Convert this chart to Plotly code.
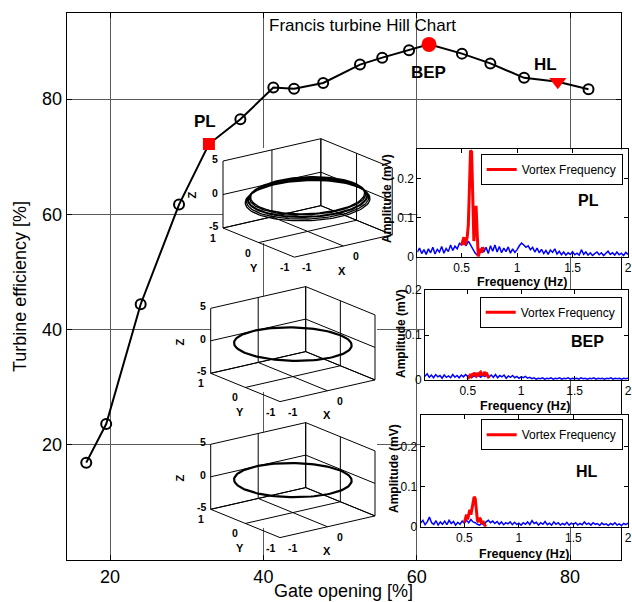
import numpy as np
import plotly.graph_objects as go

# ---------------- data ----------------
gate_opening = [16.9, 19.5, 24.0, 29.0, 32.9, 37.0, 41.3, 44.0, 47.8, 52.6,
                55.5, 59.0, 61.6, 65.9, 69.6, 74.0, 78.4, 82.4]
efficiency = [16.9, 23.6, 44.4, 61.7, 72.2, 76.5, 82.0, 81.8, 82.8, 86.0,
              87.2, 88.5, 89.5, 87.9, 86.2, 83.7, 83.0, 81.7]
op_names = ["PL", "BEP", "HL"]
op_index = [4, 12, 16]
x_ticks_main = [20, 40, 60, 80]
y_ticks_main = [20, 40, 60, 80]

# spectra (amplitude in mV), uniform frequency bins
freq_start, freq_step = 0.10, 0.02
pl_spectrum = [
    0.012, 0.022, 0.008, 0.018, 0.006, 0.020, 0.010, 0.024, 0.007, 0.019,
    0.012, 0.026, 0.009, 0.021, 0.013, 0.030, 0.016, 0.027, 0.020, 0.034,
    0.030, 0.038, 0.028, 0.040, 0.030, 0.020, 0.010, 0.004, 0.015, 0.022,
    0.012, 0.024, 0.008, 0.028, 0.014, 0.030, 0.012, 0.026, 0.010, 0.022,
    0.013, 0.025, 0.009, 0.020, 0.011, 0.018, 0.028, 0.035, 0.030, 0.024,
    0.028, 0.018, 0.024, 0.012, 0.022, 0.010, 0.019, 0.008, 0.016, 0.006,
    0.017, 0.011, 0.020, 0.007, 0.014, 0.005, 0.012, 0.004, 0.010, 0.006,
    0.013, 0.005, 0.009, 0.004, 0.018, 0.006, 0.012, 0.004, 0.010, 0.003,
    0.008, 0.012, 0.005, 0.010, 0.003, 0.008, 0.014, 0.006, 0.010, 0.004,
    0.012, 0.005, 0.009, 0.003, 0.011, 0.006,
]
bep_spectrum = [
    0.008, 0.014, 0.006, 0.011, 0.005, 0.012, 0.007, 0.010, 0.004, 0.011,
    0.006, 0.009, 0.005, 0.012, 0.006, 0.010, 0.005, 0.011, 0.007, 0.012,
    0.008, 0.010, 0.006, 0.009, 0.007, 0.011, 0.006, 0.010, 0.008, 0.012,
    0.007, 0.011, 0.006, 0.012, 0.005, 0.010, 0.007, 0.011, 0.004, 0.009,
    0.006, 0.010, 0.005, 0.008, 0.004, 0.007, 0.005, 0.008, 0.004, 0.006,
    0.003, 0.005, 0.002, 0.004, 0.003, 0.005, 0.002, 0.004, 0.003, 0.005,
    0.002, 0.004, 0.003, 0.005, 0.002, 0.004, 0.003, 0.005, 0.002, 0.004,
    0.003, 0.004, 0.002, 0.005, 0.003, 0.004, 0.002, 0.004, 0.003, 0.005,
    0.002, 0.004, 0.003, 0.004, 0.002, 0.004, 0.003, 0.005, 0.002, 0.004,
    0.003, 0.004, 0.002, 0.004, 0.003, 0.004,
]
hl_spectrum = [
    0.010, 0.016, 0.005, 0.012, 0.024, 0.010, 0.006, 0.015, 0.004, 0.012,
    0.006, 0.014, 0.005, 0.016, 0.008, 0.013, 0.004, 0.011, 0.006, 0.014,
    0.009, 0.016, 0.010, 0.018, 0.012, 0.010, 0.006, 0.004, 0.008, 0.005,
    0.012, 0.016, 0.010, 0.014, 0.008, 0.013, 0.006, 0.012, 0.005, 0.010,
    0.007, 0.012, 0.005, 0.011, 0.006, 0.009, 0.004, 0.010, 0.006, 0.012,
    0.005, 0.015, 0.008, 0.011, 0.004, 0.010, 0.006, 0.013, 0.005, 0.009,
    0.004, 0.012, 0.006, 0.010, 0.004, 0.008, 0.005, 0.011, 0.004, 0.009,
    0.006, 0.010, 0.004, 0.008, 0.005, 0.012, 0.006, 0.009, 0.004, 0.010,
    0.006, 0.008, 0.003, 0.009, 0.005, 0.007, 0.003, 0.008, 0.005, 0.010,
    0.004, 0.007, 0.003, 0.008, 0.005, 0.009,
]
vortex_start, vortex_step = 0.50, 0.01
pl_vortex = [0.030, 0.040, 0.050, 0.030, 0.045, 0.050, 0.080, 0.180, 0.272, 0.268,
             0.150, 0.040, 0.080, 0.130, 0.060, 0.000, 0.012, 0.020, 0.010, 0.024, 0.018]
bep_vortex = [0.002, 0.006, 0.010, 0.008, 0.014, 0.010, 0.016, 0.012, 0.009, 0.013,
              0.011, 0.015, 0.017, 0.010, 0.016, 0.012, 0.018, 0.011, 0.013, 0.008, 0.004]
hl_vortex = [0.010, 0.022, 0.030, 0.018, 0.035, 0.042, 0.030, 0.048, 0.060, 0.075,
             0.070, 0.040, 0.015, 0.012, 0.022, 0.018, 0.008, 0.014, 0.006, 0.002, 0.000]
spec_ymax = [0.275, 0.2, 0.28]
freq_ticks = [0.5, 1, 1.5, 2]
freq_ticktext = ["0.5", "1", "1.5", "2"]
amp_ticks = [0, 0.1, 0.2]
amp_ticktext = ["0", "0.1", "0.2"]

# vortex-rope orbits (normalised x,y; z) for each operating point
pl_loop_radius = [0.94, 0.98, 1.01, 0.96, 1.03, 0.99]
pl_loop_z = [0.4, 0.1, -0.2, 0.3, -0.4, 0.0]
bep_loop_radius = [1.0]
bep_loop_z = [0.0]
hl_loop_radius = [1.0]
hl_loop_z = [0.0]
orbit_tilt = [0.3, -0.3, -0.2]
cube_ticks_xy = [-1, 0, 1]
cube_ticks_z = [-5, 0, 5]

# ---------------- layout helpers ----------------
W, H = 632, 602
FONT = "Liberation Sans, Arial, Helvetica, sans-serif"


def fx(p):
    return p / W


def fy(p):
    return 1 - p / H


fig = go.Figure()

# ---- main chart ----
fig.add_trace(go.Scatter(x=gate_opening, y=efficiency, mode="lines",
                         line=dict(color="black", width=2), showlegend=False,
                         hoverinfo="skip"))
reg = [i for i in range(len(gate_opening)) if i not in op_index]
fig.add_trace(go.Scatter(x=[gate_opening[i] for i in reg], y=[efficiency[i] for i in reg],
                         mode="markers", showlegend=False,
                         marker=dict(symbol="circle-open", size=10, color="black",
                                     line=dict(width=2, color="black"))))
op_symbols = ["square", "circle", "triangle-down"]
op_sizes = [12, 15, 15]
for idx, sym, sz in zip(op_index, op_symbols, op_sizes):
    fig.add_trace(go.Scatter(x=[gate_opening[idx]], y=[efficiency[idx]], mode="markers",
                             showlegend=False,
                             marker=dict(symbol=sym, size=sz, color="red",
                                         line=dict(width=0))))

# ---- 3D inset orbits, drawn through an oblique projection in a pixel axis ----
XV = (95.0, -21.7)
YV = (-69.3, -28.3)
ZV = (0.0, -65.0)
cube_insets = [
    dict(origin=(223.0, 228.0), s=1.03, bg=(223, 400, 148, 243)),
    dict(origin=(210.7, 373.3), s=1.0, bg=(211, 377, 296, 392)),
    dict(origin=(210.7, 509.3), s=1.0, bg=(211, 377, 432, 528)),
]


def project(ins, x, y, z):
    ox, oy = ins["origin"]
    s = ins["s"]
    x = np.asarray(x, float)
    y = np.asarray(y, float)
    z = np.asarray(z, float)
    a = (x + 1) / 2
    b = (y - 1) / 2
    c = (z + 5) / 10
    px = ox + s * (a * XV[0] + b * YV[0] + c * ZV[0])
    py = oy + s * (a * XV[1] + b * YV[1] + c * ZV[1])
    return px, py


annotations = []


def ann(text, x, y, size, bold=False, angle=0, xanchor="center", yanchor="middle",
        xref="x2", yref="y2"):
    annotations.append(dict(text=f"<b>{text}</b>" if bold else text, x=x, y=y,
                            xref=xref, yref=yref, showarrow=False, textangle=angle,
                            xanchor=xanchor, yanchor=yanchor,
                            font=dict(family=FONT, size=size, color="black")))


orbits = [(pl_loop_radius, pl_loop_z, 1.3), (bep_loop_radius, bep_loop_z, 2.2),
          (hl_loop_radius, hl_loop_z, 2.2)]
theta = np.linspace(0, 2 * np.pi, 121)

for k, ins in enumerate(cube_insets):
    x0, x1, y0, y1 = ins["bg"]
    fig.add_trace(go.Scatter(x=[x0, x1, x1, x0, x0], y=[y0, y0, y1, y1, y0],
                             xaxis="x2", yaxis="y2", fill="toself", fillcolor="white",
                             line=dict(width=0, color="white"), mode="lines",
                             showlegend=False, hoverinfo="skip"))
    segs = []
    T, ZT = cube_ticks_xy, cube_ticks_z
    for v in T:
        segs.append(((v, -1, -5), (v, 1, -5)))
        segs.append(((-1, v, -5), (1, v, -5)))
        segs.append(((v, 1, -5), (v, 1, 5)))
        segs.append(((1, v, -5), (1, v, 5)))
    for zv in ZT:
        segs.append(((-1, 1, zv), (1, 1, zv)))
        segs.append(((1, -1, zv), (1, 1, zv)))
    gx, gy = [], []
    for p, q in segs:
        px, py = project(ins, [p[0], q[0]], [p[1], q[1]], [p[2], q[2]])
        gx += list(px) + [None]
        gy += list(py) + [None]
    fig.add_trace(go.Scatter(x=gx, y=gy, xaxis="x2", yaxis="y2", mode="lines",
                             line=dict(color="black", width=1), showlegend=False,
                             hoverinfo="skip"))
    radii, zs, lw = orbits[k]
    ox_, oy_ = [], []
    for r, zc in zip(radii, zs):
        xs = r * np.cos(theta)
        ys = r * np.sin(theta)
        zz = zc + orbit_tilt[k] * np.cos(theta)
        px, py = project(ins, xs, ys, zz)
        ox_ += list(px)
        oy_ += list(py)
    fig.add_trace(go.Scatter(x=ox_, y=oy_, xaxis="x2", yaxis="y2", mode="lines",
                             line=dict(color="black", width=lw), showlegend=False,
                             hoverinfo="skip"))
    s = ins["s"]
    for zv in cube_ticks_z:
        px, py = project(ins, -1, 1, zv)
        ann(str(zv), float(px) - 3 * s, float(py) - 2, 10.5, bold=True, xanchor="right")
    px, py = project(ins, -1, 1, 0)
    ann("Z", float(px) - 31 * s, float(py) + 1, 11, bold=True, angle=-90)
    for yv in cube_ticks_xy:
        px, py = project(ins, -1, yv, -5)
        ann(str(yv), float(px) - 10 * s, float(py) + 10 * s, 10.5, bold=True)
    px, py = project(ins, -1, 0, -5)
    ann("Y", float(px) - 5 * s, float(py) + 25 * s, 11, bold=True)
    for xv in cube_ticks_xy[:2]:
        px, py = project(ins, xv, -1, -5)
        ann(str(xv), float(px) + 12 * s, float(py) + 10 * s, 10.5, bold=True)
    px, py = project(ins, 0, -1, -5)
    ann("X", float(px) - 1, float(py) + 24 * s, 11, bold=True)

# ---- frequency spectra insets ----
spectra = [pl_spectrum, bep_spectrum, hl_spectrum]
vortices = [pl_vortex, bep_vortex, hl_vortex]
spec_boxes = [(417.3, 628, 149.3, 256.7), (425, 628, 290, 380), (420.7, 628, 415, 526.7)]
legend_pos = [(622.7, 154), (621.7, 296.7), (622.7, 419.3)]
label_pos = [(588, 200), (587, 341.7), (587, 471.7)]
amp_title_pos = [(387, 199), (401, 334), (394, 469)]
freq_title_pos = [(522, 282), (525, 405.5), (524, 553.5)]
legend_names = ["legend", "legend2", "legend3"]

layout_axes = {}
for k in range(3):
    ax = k + 3
    xa, ya = f"x{ax}", f"y{ax}"
    fig.add_trace(go.Scatter(x=[0.1, 2, 2, 0.1, 0.1],
                             y=[0, 0, spec_ymax[k], spec_ymax[k], 0],
                             xaxis=xa, yaxis=ya, fill="toself", fillcolor="white",
                             mode="lines", line=dict(width=0, color="white"),
                             showlegend=False, hoverinfo="skip"))
    f = np.round(freq_start + freq_step * np.arange(len(spectra[k])), 3)
    fig.add_trace(go.Scatter(x=f, y=spectra[k], xaxis=xa, yaxis=ya, mode="lines",
                             line=dict(color="#0000ff", width=1.5), showlegend=False))
    fv = np.round(vortex_start + vortex_step * np.arange(len(vortices[k])), 3)
    fig.add_trace(go.Scatter(x=fv, y=vortices[k], xaxis=xa, yaxis=ya, mode="lines",
                             line=dict(color="#ff0000", width=3), name="Vortex Frequency",
                             showlegend=True, legend=legend_names[k]))
    bx0, bx1, by0, by1 = spec_boxes[k]
    common = dict(showline=True, mirror="ticks", linecolor="black", linewidth=1,
                  ticks="inside", ticklen=4, tickcolor="black", showgrid=False,
                  zeroline=False, tickfont=dict(family=FONT, size=12, color="black"),
                  fixedrange=True, ticklabeloverflow="allow")
    layout_axes[f"xaxis{ax}"] = dict(domain=[fx(bx0), fx(bx1)], range=[0.1, 2],
                                     anchor=ya, tickvals=freq_ticks,
                                     ticktext=freq_ticktext, **common)
    layout_axes[f"yaxis{ax}"] = dict(domain=[fy(by1), fy(by0)], range=[0, spec_ymax[k]],
                                     anchor=xa, tickvals=amp_ticks,
                                     ticktext=amp_ticktext, **common)
    lx, ly = legend_pos[k]
    layout_axes[legend_names[k]] = dict(x=fx(lx), y=fy(ly), xanchor="right", yanchor="top",
                                        bgcolor="white", bordercolor="black", borderwidth=1,
                                        font=dict(family=FONT, size=12, color="black"),
                                        itemwidth=30, tracegroupgap=0)
    ann(op_names[k], *label_pos[k], 16, bold=True)
    ann("Amplitude (mV)", *amp_title_pos[k], 12, bold=True, angle=-90)
    ann("Frequency (Hz)", *freq_title_pos[k], 12.5, bold=True)

# main labels
label_xy = [(32.4, 76.2), (61.5, 84.6), (76.8, 86.0)]
for name, (lx, ly) in zip(op_names, label_xy):
    ann(name, lx, ly, 17, bold=True, xref="x", yref="y")
ann("Francis turbine Hill Chart", 362.5, 25, 17)
ann("Turbine efficiency [%]", 20, 287, 18, angle=-90)
ann("Gate opening [%]", 343.7, 591, 18)

main_common = dict(showgrid=True, gridcolor="#5a5a5a", gridwidth=1, showline=True,
                   mirror="ticks", linecolor="black", linewidth=1, ticks="inside",
                   ticklen=5, tickcolor="black", zeroline=False,
                   tickfont=dict(family=FONT, size=18, color="black"), fixedrange=True)

fig.update_layout(
    width=W, height=H, autosize=False,
    margin=dict(l=0, r=0, t=0, b=0, pad=0, autoexpand=False),
    paper_bgcolor="white", plot_bgcolor="rgba(0,0,0,0)",
    font=dict(family=FONT, color="black"),
    xaxis=dict(domain=[fx(66.7), fx(620.7)], range=[14.35, 86.6], tickvals=x_ticks_main,
               anchor="y", **main_common),
    yaxis=dict(domain=[fy(560), fy(13.3)], range=[0, 94.9], tickvals=y_ticks_main,
               anchor="x", **main_common),
    xaxis2=dict(domain=[0, 1], range=[0, W], visible=False, anchor="y2", fixedrange=True),
    yaxis2=dict(domain=[0, 1], range=[H, 0], visible=False, anchor="x2", fixedrange=True),
    annotations=annotations,
    showlegend=True,
    **layout_axes,
)

fig.write_html(
    "out.html",
    config={"displayModeBar": False},
    post_script="document.body.style.margin='0';document.body.style.overflow='hidden';",
)
